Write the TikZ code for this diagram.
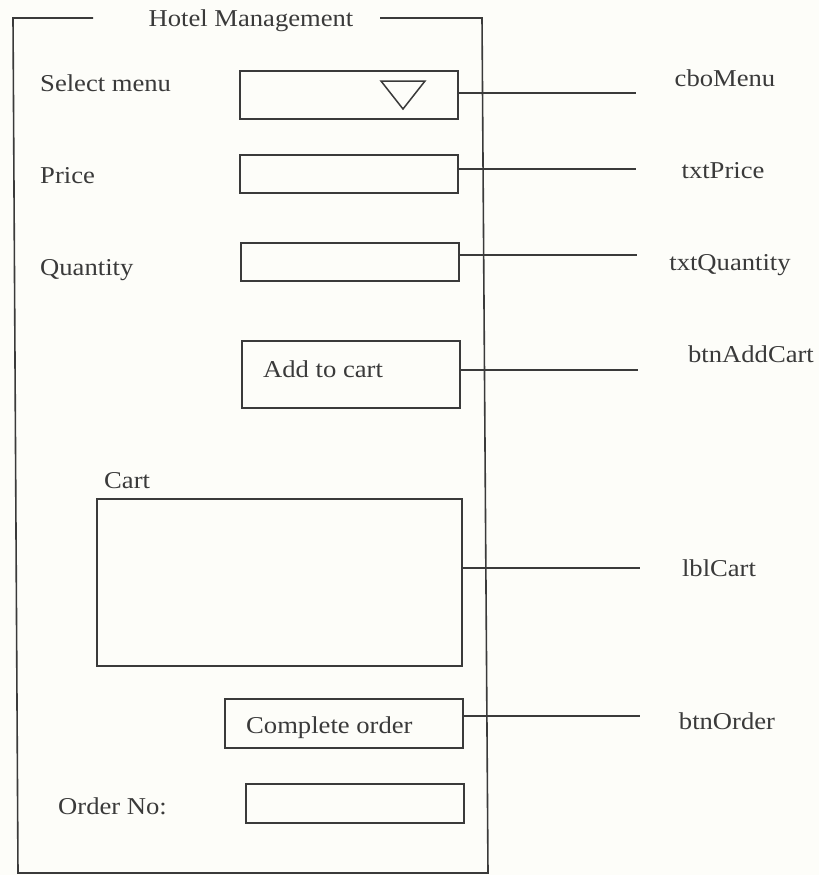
\documentclass[tikz,border=0pt]{standalone}
\usepackage{fontspec}
\setmainfont{Liberation Serif}[FakeStretch=1.1]
\definecolor{ink}{HTML}{3A3A3A}
\definecolor{paper}{HTML}{FDFDF9}
\begin{document}
\begin{tikzpicture}[x=1pt,y=-1pt,
  box/.style={draw=ink,line width=1.7pt,inner sep=0pt,fill=none},
  txt/.style={text=ink,inner sep=0pt,anchor=base,font=\fontsize{24.2}{29}\selectfont},
  conn/.style={draw=ink,line width=1.5pt},
  frame/.style={draw=ink,line width=1.6pt}]
\useasboundingbox[fill=paper] (0,0) rectangle (819,875);
% outer frame
\coordinate (ftl) at (13,18);
\coordinate (ftr) at (482,18);
\coordinate (fbr) at (488,873);
\coordinate (fbl) at (18,873);
\coordinate (gapl) at (93,18);
\coordinate (gapr) at (380,18);
\draw[frame] (gapl) -- (ftl) -- (fbl) -- (fbr) -- (ftr) -- (gapr);
\node[txt] (title) at (251,27) {Hotel Management};

% left labels
\node[txt,anchor=base west] (lsel) at (40,92) {Select menu};
\node[txt,anchor=base west] (lprice) at (40,183) {Price};
\node[txt,anchor=base west] (lqty) at (40,275) {Quantity};
\node[txt,anchor=base west] (lcart) at (104,488) {Cart};
\node[txt,anchor=base west] (lord) at (58,814) {Order No:};

% controls
\node[box,minimum width=218pt,minimum height=48pt] (cbo) at (349,95) {};
\coordinate (t1) at (381,81);
\coordinate (t2) at (425,81);
\coordinate (t3) at (403,109);
\draw[ink,line width=1.5pt,line join=miter] (t1) -- (t2) -- (t3) -- cycle;
\node[box,minimum width=218pt,minimum height=38pt] (price) at (349,174) {};
\node[box,minimum width=218pt,minimum height=38pt] (qty) at (350,262) {};
\node[box,minimum width=218pt,minimum height=67pt] (add) at (351,374.5) {};
\node[txt,anchor=base west] (addt) at (263,377) {Add to cart};
\node[box,minimum width=365pt,minimum height=167pt] (cart) at (279.5,582.5) {};
\node[box,minimum width=238pt,minimum height=49pt] (ord) at (344,723.5) {};
\node[txt,anchor=base west] (ordt) at (246,733) {Complete order};
\node[box,minimum width=218pt,minimum height=39pt] (ordno) at (355,803.5) {};

% connector ends
\coordinate (e1) at (636,93);
\coordinate (e2) at (636,169);
\coordinate (e3) at (637,255);
\coordinate (e4) at (638,370);
\coordinate (e5) at (640,568);
\coordinate (e6) at (640,716);
\draw[conn] (cbo.east |- e1) -- (e1);
\draw[conn] (price.east |- e2) -- (e2);
\draw[conn] (qty.east |- e3) -- (e3);
\draw[conn] (add.east |- e4) -- (e4);
\draw[conn] (cart.east |- e5) -- (e5);
\draw[conn] (ord.east |- e6) -- (e6);

% right labels
\node[txt] (n1) at (725,86) {cboMenu};
\node[txt] (n2) at (723,178) {txtPrice};
\node[txt] (n3) at (730,270) {txtQuantity};
\node[txt] (n4) at (751,362) {btnAddCart};
\node[txt] (n5) at (719,576) {lblCart};
\node[txt] (n6) at (727,729) {btnOrder};
\end{tikzpicture}
\end{document}
